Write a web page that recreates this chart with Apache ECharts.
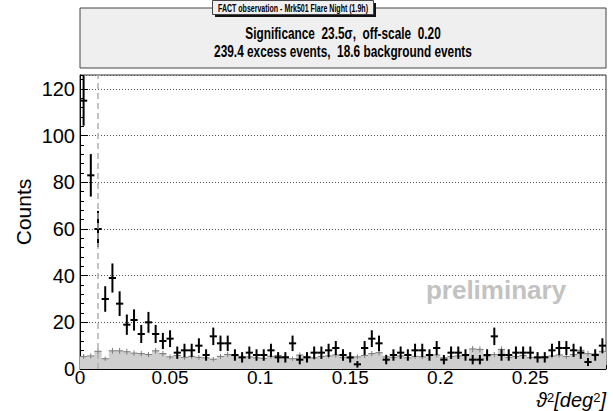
<!DOCTYPE html>
<html>
<head>
<meta charset="utf-8">
<script src="https://cdn.jsdelivr.net/npm/echarts@6/dist/echarts.min.js"></script>
<style>html,body{margin:0;padding:0;background:#fff}#c{width:613px;height:411px}</style>
</head>
<body>
<div id="c"></div>
<script>
// ---- data ----
const BIN_WIDTH = 0.004;          // deg^2 per bin
const X_MAX = 0.292;              // 73 bins
const Y_MAX = 126;
const CUT = 0.012;                // signal region cut (dashed line)
const onCounts = [115, 83, 60, 30, 39, 28, 19, 21, 15, 20, 15, 12, 13, 7, 8, 8, 10, 6, 14, 11,
  11, 6, 5, 7, 6, 6, 8, 5, 5, 11, 4, 5, 7, 7, 8, 9, 6, 5, 2, 9,
  13, 11, 4, 6, 7, 6, 8, 8, 6, 9, 4, 7, 7, 6, 4, 4, 6, 14, 6, 6,
  7, 7, 7, 5, 5, 8, 9, 9, 8, 7, 3, 6, 10];
const offCounts = [5.4, 5.6, 7.6, 4.4, 7.8, 7.8, 7.4, 6.8, 6.6, 6.2, 7.8, 6.6, 5.2, 5.8, 5.0, 5.4, 5.0, 4.8, 4.2, 5.4,
  6.2, 5.8, 5.0, 5.2, 4.8, 4.6, 5.4, 5.8, 5.2, 4.4, 6.0, 5.2, 4.8, 5.4, 5.6, 6.0, 5.0, 4.6, 5.2, 5.8,
  6.6, 7.0, 5.2, 5.0, 5.6, 4.8, 5.4, 5.2, 5.8, 6.0, 4.8, 5.4, 5.6, 6.0, 8.6, 8.4, 5.6, 6.2, 8.4, 5.0,
  5.4, 5.8, 5.0, 4.8, 5.2, 5.6, 6.0, 5.4, 6.2, 8.0, 6.6, 6.4, 7.6];
const OFF_SCALE = 0.20;
const xTicks = [0, 0.05, 0.1, 0.15, 0.2, 0.25];
const yTicks = [0, 20, 40, 60, 80, 100, 120];
const titleText = 'FACT observation - Mrk501 Flare Night (1.9h)';
const statsLine1 = 'Significance  23.5\u03c3,  off-scale  0.20';
const statsLine2 = '239.4 excess events,  18.6 background events';
const yTitle = 'Counts';
const xTitle = '{a|\u03d1}{s|2}{a|[deg}{s|2}{a|]}';

// ---- build series data ----
const onData = onCounts.map((v, i) => [BIN_WIDTH * (i + 0.5), v, Math.sqrt(v)]);
const offData = offCounts.map((v, i) => [BIN_WIDTH * (i + 0.5), v, Math.sqrt(v / OFF_SCALE) * OFF_SCALE]);
const offStep = offCounts.map((v, i) => [BIN_WIDTH * i, v]);
offStep.push([X_MAX, offCounts[offCounts.length - 1]]);

const FONT = "'Liberation Sans', Arial, Helvetica, sans-serif";

function crossRenderer(color, width) {
  return function (params, api) {
    const x = api.value(0), y = api.value(1), e = api.value(2);
    const pL = api.coord([x - BIN_WIDTH / 2, y]);
    const pR = api.coord([x + BIN_WIDTH / 2, y]);
    const pT = api.coord([x, y + e]);
    const pB = api.coord([x, Math.max(y - e, 0)]);
    const st = { stroke: color, lineWidth: width };
    return {
      type: 'group',
      children: [
        { type: 'line', shape: { x1: pL[0], y1: pL[1], x2: pR[0], y2: pR[1] }, style: st },
        { type: 'line', shape: { x1: pT[0], y1: pT[1], x2: pB[0], y2: pB[1] }, style: st }
      ]
    };
  };
}

const chart = echarts.init(document.getElementById('c'), null, { renderer: 'svg' });
const option = {
  animation: false,
  backgroundColor: '#ffffff',
  grid: { left: 80, right: 7, top: 75, bottom: 42, containLabel: false, outerBoundsMode: 'none',
    show: true, borderColor: '#333', borderWidth: 1, backgroundColor: 'transparent' },
  xAxis: [{
    type: 'value', min: 0, max: X_MAX, interval: 0.05, position: 'bottom',
    axisLine: { show: true, onZero: false, lineStyle: { color: '#000', width: 1 } },
    axisTick: { show: true, inside: true, length: 8, lineStyle: { color: '#000' } },
    axisLabel: { show: true, color: '#000', fontFamily: FONT, fontSize: 19, lineHeight: 15, margin: 1, showMaxLabel: false,
      formatter: v => { const r = Math.round(v * 100) / 100; return xTicks.indexOf(r) >= 0 ? String(r) : ''; } },
    splitLine: { show: false }
  }, {
    type: 'value', min: 0, max: X_MAX, interval: 0.01, position: 'bottom',
    axisLine: { show: false }, axisLabel: { show: false }, splitLine: { show: false },
    axisTick: { show: true, inside: true, length: 4, lineStyle: { color: '#000' } }
  }],
  yAxis: [{
    type: 'value', min: 0, max: Y_MAX, interval: 20, position: 'left',
    axisLine: { show: true, onZero: false, lineStyle: { color: '#000', width: 1 } },
    axisTick: { show: true, inside: true, length: 8, lineStyle: { color: '#000' } },
    axisLabel: { show: true, color: '#000', fontFamily: FONT, fontSize: 20, margin: 5, showMaxLabel: false },
    splitLine: { show: true, lineStyle: { color: '#555', type: [1, 2], width: 1 } }
  }, {
    type: 'value', min: 0, max: Y_MAX, interval: 4, position: 'left',
    axisLine: { show: false }, axisLabel: { show: false }, splitLine: { show: false },
    axisTick: { show: true, inside: true, length: 4, lineStyle: { color: '#000' } }
  }],
  series: [{
    type: 'line', name: 'off-fill', xAxisIndex: 0, yAxisIndex: 0, data: offStep, step: 'end',
    symbol: 'none', lineStyle: { width: 0, color: '#c8c8c8' }, areaStyle: { color: '#cfcfcf', opacity: 1 },
    silent: true, z: 1
  }, {
    type: 'custom', name: 'off', xAxisIndex: 0, yAxisIndex: 0, data: offData,
    renderItem: crossRenderer('#7a7a7a', 1), clip: true, z: 3
  }, {
    type: 'custom', name: 'on', xAxisIndex: 0, yAxisIndex: 0, data: onData,
    renderItem: crossRenderer('#000', 2), clip: true, z: 4,
    markLine: {
      silent: true, symbol: 'none', label: { show: false },
      lineStyle: { color: '#b0b0b0', type: [6, 4], width: 1.5 },
      data: [{ xAxis: CUT }]
    }
  }],
  graphic: [
    { type: 'text', x: 23, y: 212, rotation: Math.PI / 2, style: { text: yTitle, fontFamily: FONT, fontSize: 21, fill: '#000', align: 'center', verticalAlign: 'middle' } },
    { type: 'text', x: 606, y: 391, style: {
        text: xTitle, align: 'right', verticalAlign: 'top', lineHeight: 19,
        rich: {
          a: { fontFamily: FONT, fontStyle: 'italic', fontSize: 20, fill: '#000', verticalAlign: 'bottom', lineHeight: 19 },
          s: { fontFamily: FONT, fontSize: 13, fill: '#000', verticalAlign: 'top', lineHeight: 11 }
        } } },
    { type: 'rect', shape: { x: 80, y: 8, width: 526, height: 60 }, style: { fill: '#efefef', stroke: '#444', lineWidth: 1 }, z: 10 },
    { type: 'text', x: 343, y: 33, scaleX: 0.74, style: { text: statsLine1, fontFamily: FONT, fontWeight: 'bold', fontSize: 16, fill: '#000', align: 'center', verticalAlign: 'middle' }, z: 11 },
    { type: 'text', x: 343, y: 51, scaleX: 0.74, style: { text: statsLine2, fontFamily: FONT, fontWeight: 'bold', fontSize: 16, fill: '#000', align: 'center', verticalAlign: 'middle' }, z: 11 },
    { type: 'rect', shape: { x: 215, y: 3, width: 161, height: 14 }, style: { fill: '#111' }, z: 12 },
    { type: 'rect', shape: { x: 212.5, y: 0.5, width: 161, height: 14 }, style: { fill: '#efefef', stroke: '#444', lineWidth: 1 }, z: 13 },
    { type: 'text', x: 293, y: 8, scaleX: 0.64, style: { text: titleText, fontFamily: FONT, fontWeight: 'bold', fontSize: 11, fill: '#000', align: 'center', verticalAlign: 'middle' }, z: 14 },
    { type: 'text', x: 496, y: 290, style: { text: 'preliminary', fontFamily: FONT, fontWeight: 'bold', fontSize: 26, fill: '#c2c2c2', align: 'center', verticalAlign: 'middle' }, z: 0 }
  ]
};
chart.setOption(option);
</script>
</body>
</html>
